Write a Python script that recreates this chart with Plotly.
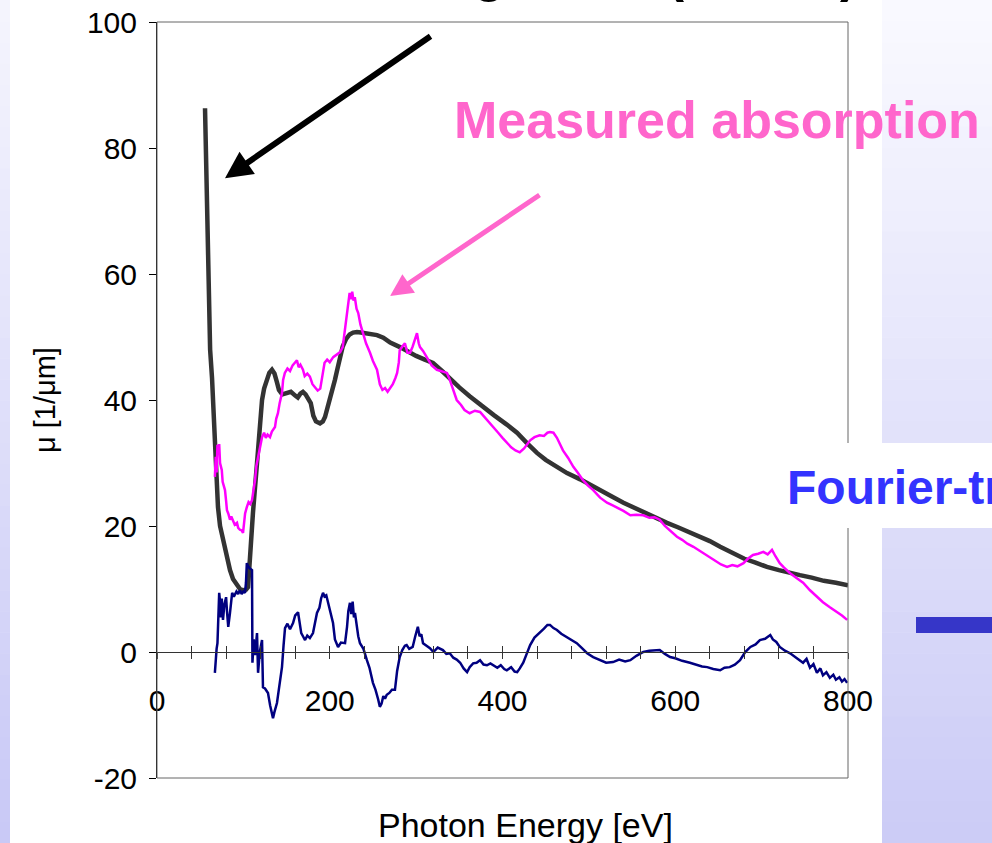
import plotly.graph_objects as go

# ---------------- data ----------------
calc_x = [55.6, 57.9, 60.2, 61.5, 63.7, 65.5, 67.1, 68.8, 70.6, 73, 76.4, 80, 84.5, 88, 92.6, 96, 99.6, 103,
          105.4, 107.7, 111.1, 115.8, 118.5, 121.6, 124, 127.4, 130, 133.1, 136, 138.5, 141.2, 145, 150.5,
          155, 160, 163, 166, 169, 172, 175, 178, 181, 184, 188.7, 192, 194.5, 197, 200.3, 203, 206, 209,
          212, 215, 219, 223, 227, 231.5, 236, 245, 254.7, 262, 270, 281.3, 290, 300, 310, 319.5, 330, 339,
          350, 362, 377.4, 390, 405, 416.8, 428, 439.9, 450, 462, 474.7, 490, 500, 512.9, 525, 540, 551.1,
          565, 578, 590.4, 603, 615, 628.7, 640, 652, 666.9, 680, 693, 706.2, 720, 733, 744.4, 758, 772,
          786, 800]
calc_y = [86.3, 69.7, 53.8, 48, 43.5, 38, 32.5, 27.5, 23.0, 20, 17.8, 15.2, 13.0, 11.6, 10.6, 10.0, 9.8, 9.9,
          10.3, 15.7, 22.1, 30.0, 35.5, 40.0, 41.8, 43.3, 44.3, 44.8, 44.2, 43, 41.6, 40.9, 41.1,
          41.3, 40.7, 40.4, 41, 41.3, 40.9, 40.2, 39.5, 37.5, 36.6, 36.3, 36.6, 37.3, 38.5, 40, 41.6, 43.2, 45,
          47, 48.5, 49.7, 50.4, 50.7, 50.8, 50.7, 50.5, 50.3, 49.9, 49.1, 48.4, 47.7, 47.0, 46.4, 45.9, 44.6, 43.4,
          42.0, 40.6, 38.9, 37.6, 36.1, 34.8, 33.2, 31.6, 30.5, 29.5, 28.4, 27.4, 26.6, 25.7, 24.8, 23.7, 23.0,
          22.0, 21.2, 20.5, 19.8, 19.1, 18.3, 17.6, 16.7, 15.7, 14.8, 14.2, 13.5, 13.0, 12.5, 12.2, 11.8, 11.3,
          11.0, 10.6]

meas_x = [67, 68, 69, 70, 71, 72, 73, 74, 75, 76, 77, 78.7, 80, 81, 82.5, 84.5, 86, 88, 90, 92.6, 94, 96, 98,
          99.6, 101, 102, 104, 106, 108, 110, 111.5, 113.5, 115, 117, 119, 121.6, 124, 126, 128, 130.8, 133,
          136.6, 138, 140, 142, 144.7, 146, 148, 151, 154, 157, 160, 162, 164, 166, 169, 171, 174, 177, 180,
          183, 186, 189, 190, 192, 194, 197, 200, 204, 208, 212, 215, 217, 218.5, 220, 221.5, 223, 224.5, 226,
          227.5, 229, 231, 233, 235.5, 238.5, 242, 246.6, 250, 254.7, 258, 261, 264, 267, 270, 273, 276, 278,
          280, 281, 284, 287, 290, 293, 296, 299, 301, 303, 304.5, 308, 312.6, 318, 324, 330, 335.7, 339, 343,
          347, 352, 356, 362, 368, 374, 380, 385, 389, 395, 400, 405, 410, 415, 420, 425, 429, 432, 437, 443,
          448, 452, 455, 459, 463, 467, 470, 476, 482, 487, 493, 499, 505, 513, 521, 527, 532, 540, 548, 555,
          563, 570, 576, 582, 588, 595, 602, 608, 614, 621, 627, 634, 640, 647, 653, 660, 666, 672, 679, 684,
          690, 696, 702, 707, 712, 716, 721, 726, 733, 740, 748, 756, 764, 771, 779, 786, 793, 799]
meas_y = [27.8, 31, 28.5, 32.9, 31.5, 33, 30, 29.5, 28.9, 27, 26.5, 25.7, 24, 22.5, 22, 21, 21.5, 20.8, 20.2,
          20.5, 19.7, 19.4, 19.3, 18.9, 20.5, 22, 23, 23.8, 23.5, 24.1, 25.5, 27.3, 29.5, 31, 32.8, 34.1, 34.8,
          34, 34.5, 34.1, 35, 35.7, 37, 37.9, 39.5, 41.1, 43.2, 44.3, 45, 44.6, 45.5, 46, 46.3, 45.2, 45.6,
          44.8, 43.8, 44.2, 43.7, 42.5, 42, 41.5, 41.8, 42.5, 44.5, 45.9, 46.4, 46, 46.8, 47.2, 47.6, 48.4,
          50.5, 52, 53.8, 55.5, 57, 56, 57.2, 55.8, 56.3, 54.5, 53.8, 52, 50.6, 49, 47.5, 46.2, 44.8, 42.5,
          41.6, 41.9, 41.3, 42, 42.5, 43.5, 44.3, 46, 47.9, 48.5, 49, 47.5, 47.5, 48.5, 50, 50.6, 49, 48.4,
          47.8, 46.8, 45.5, 44.8, 44.5, 44.3, 43.2, 41.5, 40, 39.2, 38.4, 37.9, 38.3, 38.1, 37.2, 36.4, 35.7,
          34.8, 34, 33.3, 32.5, 32, 31.7, 32.3, 33.1, 33.6, 34.1, 34.4, 34.3, 34.8, 34.9, 34.8, 34, 32.8, 32,
          30.8, 29.4, 28.5, 27.3, 26.4, 25.7, 24.5, 23.7, 23.3, 23, 22.4, 21.7, 21.8, 21.7, 21.3, 21.4, 21, 20,
          19.2, 18.3, 17.8, 17.2, 16.7, 16.2, 15.6, 15.1, 14.5, 13.9, 13.5, 13.8, 13.6, 14.1, 14.8, 15.4,
          15.6, 15.9, 15.5, 16.2, 15.2, 14.1, 13.4, 12.5, 11.8, 11, 9.8, 8.7, 7.9, 7.1, 6.5, 5.8, 5.1]

diff_x = [67, 68, 69, 70, 71, 72, 73, 74, 75, 76.4, 78, 80, 81, 82.5, 84.5, 86, 87, 89, 92, 94, 96, 98, 100,
          101.9, 103, 104, 106, 108, 110, 110.5, 112, 113.5, 115.8, 117, 119, 121.6, 122.7, 125, 128.5, 131,
          134.3, 136, 138.9, 141, 143, 144.7, 146.5, 148.2, 151, 154, 157.5, 160, 163.3, 165, 167, 169, 171.4,
          174, 177, 180.6, 183, 185.2, 188, 190, 192.2, 194, 196, 198, 201, 203.8, 206, 209.6, 213, 217.7,
          220, 221.5, 223.4, 225, 226.5, 228, 229.2, 231, 233, 235, 239, 243, 246, 250, 253, 256, 258, 260,
          262, 264, 266, 269, 272, 275.5, 278, 281, 284, 287, 289, 292, 296, 299, 302, 304, 306, 308, 312,
          316, 320, 325, 331, 335, 339, 343, 347, 351, 355, 359, 362, 366, 370, 374, 378, 382, 386, 390, 394,
          398, 402, 405, 410, 414, 417, 420, 424, 428, 432, 437, 443, 448, 452, 455, 459, 463, 468, 474, 480,
          486, 492, 498, 505, 513, 520, 528, 535, 542, 548, 555, 563, 570, 576, 582, 588, 594, 600, 608, 617,
          625, 631, 637, 644, 652, 657, 663, 669, 675, 681, 687, 693, 698, 704, 710, 713, 717, 721, 727, 733,
          740, 748, 752, 756, 760, 764, 768, 771, 775, 779, 783, 786, 790, 793, 796, 799]
diff_y = [-3.3, -1, 0.5, 1.4, 5, 9.4, 8, 5.5, 8.5, 5.1, 7.5, 8.7, 6.5, 4, 6.2, 8.5, 9.4, 8.8, 9.6, 9.2, 9.8,
          9.2, 9.6, 9.4, 11, 14.1, 13.5, 13.2, 13, -1.7, 2, -0.5, 3, -3.3, 0, 1.9, -5.6, -5.8, -6.5, -8.5,
          -10.5, -9.5, -8.1, -6, -4, -2.4, 1, 3.8, 4.5, 3.6, 4.6, 5.8, 6.3, 4.5, 3, 2.5, 1.9, 2.6, 2.2, 3,
          4.5, 6.2, 7, 8.5, 9.4, 8.8, 9, 7.9, 6.5, 4.6, 2, 0.8, 1.5, 1.4, 4, 6.5, 7.8, 6, 8, 5.5, 6.2, 4, 2.5,
          1.4, 0.5, -1.3, -2.5, -4.9, -6, -7.5, -8.7, -8.2, -7, -7.4, -6.8, -6.5, -6, -6, -3, -0.8, 0.3, 1,
          1.1, 0.5, 0.8, 2.5, 4.0, 2.5, 2.8, 1.4, 1, 0.6, 0, 0.7, 0.3, -0.3, -0.2, -0.9, -1.2, -1.7, -2.6,
          -3.2, -2.4, -1.8, -1.7, -1.3, -2.0, -2.1, -1.8, -2.2, -2.5, -2.1, -2.7, -2.9, -2.4, -3.1, -3.2, -2.6,
          -1.7, -0.3, 1.1, 2.3, 3.0, 3.7, 4.3, 4.3, 3.8, 3.5, 2.9, 2.4, 2.0, 1.4, 0.6, -0.2, -0.8, -1.3, -1.7,
          -1.6, -1.2, -1.5, -1.3, -0.6, 0, 0.2, 0.3, 0.3, -0.3, -0.8, -1.0, -1.4, -1.7, -2.0, -2.3, -2.4, -2.7,
          -2.9, -2.5, -2.4, -2.0, -1.3, 0, 0.8, 1.2, 1.9, 2.1, 2.7, 2.0, 1.6, 0.8, 0.2, -0.2, -0.9, -1.7, -1.1,
          -2.5, -1.9, -3.3, -2.6, -3.7, -3.2, -4.1, -3.6, -4.4, -4.0, -4.7, -4.3, -4.9]

x_tick_vals = [0, 200, 400, 600, 800]
x_tick_text = ["0", "200", "400", "600", "800"]
y_tick_vals = [-20, 0, 20, 40, 60, 80, 100]
y_tick_text = ["-20", "0", "20", "40", "60", "80", "100"]

title_text = "Atomic background (Henke)"
x_title = "Photon Energy [eV]"
y_title = "μ [1/μm]"
measured_label = "Measured absorption"
fourier_label = "Fourier-transform"

# arrow positions in data units (tip, tail)
black_arrow = dict(tip=(78.7, 75.2), tail=(318.4, 97.9))
pink_arrow = dict(tip=(269.8, 56.5), tail=(444.6, 72.7))

# ---------------- figure ----------------
W, H = 992, 843
L, R, T, B = 157, 144, 22, 65
PW, PH = W - L - R, H - T - B


def px(xp):
    return (xp - L) / PW


def py(yp):
    return (H - B - yp) / PH


FONT = "Liberation Sans, Arial, sans-serif"

fig = go.Figure()
fig.add_trace(go.Scatter(x=calc_x, y=calc_y, mode="lines",
                         line=dict(color="#333333", width=4.5), showlegend=False, hoverinfo="skip"))
fig.add_trace(go.Scatter(x=meas_x, y=meas_y, mode="lines",
                         line=dict(color="#FF00FF", width=2.5), showlegend=False, hoverinfo="skip"))
fig.add_trace(go.Scatter(x=diff_x, y=diff_y, mode="lines",
                         line=dict(color="#000080", width=2.5), showlegend=False, hoverinfo="skip"))
# empty trace to attach the second (upward tick) x axis
fig.add_trace(go.Scatter(x=[None], y=[None], xaxis="x2", yaxis="y", showlegend=False, hoverinfo="skip"))


def lerp_color(c1, c2, t):
    r = round(c1[0] + (c2[0] - c1[0]) * t)
    g = round(c1[1] + (c2[1] - c1[1]) * t)
    b = round(c1[2] + (c2[2] - c1[2]) * t)
    return f"rgb({r},{g},{b})"


shapes = []
nb = 40
for i in range(nb):
    y0p = H * i / nb
    y1p = H * (i + 1) / nb
    t = (i + 0.5) / nb
    # right panel
    shapes.append(dict(type="rect", xref="paper", yref="paper", x0=px(882), x1=px(1000),
                       y0=py(y0p), y1=py(y1p + 0.5), fillcolor=lerp_color((250, 250, 255), (203, 203, 246), t),
                       line=dict(width=0), layer="below"))
    # left strip
    shapes.append(dict(type="rect", xref="paper", yref="paper", x0=px(-5), x1=px(10),
                       y0=py(y0p), y1=py(y1p + 0.5), fillcolor=lerp_color((245, 245, 253), (200, 200, 246), t),
                       line=dict(width=0), layer="below"))

# plot area border
shapes.append(dict(type="rect", xref="paper", yref="paper", x0=0, x1=1, y0=0, y1=1,
                   line=dict(color="#666666", width=1), fillcolor="rgba(0,0,0,0)", layer="above"))
# white box behind the Fourier text
shapes.append(dict(type="rect", xref="paper", yref="paper", x0=px(775), x1=px(1000), y0=py(528), y1=py(443),
                   fillcolor="white", line=dict(width=0), layer="above"))
# blue bar
shapes.append(dict(type="rect", xref="paper", yref="paper", x0=px(916), x1=px(1000), y0=py(633), y1=py(617),
                   fillcolor="#3636C8", line=dict(width=0), layer="above"))

annotations = [
    dict(text=title_text, xref="paper", yref="paper", x=px(510), y=py(-27), xanchor="center",
         yanchor="middle", showarrow=False, font=dict(family=FONT, size=52, color="black", weight="bold")),
    dict(text=measured_label, xref="paper", yref="paper", x=px(452), y=py(120), xanchor="left",
         yanchor="middle", showarrow=False, font=dict(family=FONT, size=52, color="#FF66CC", weight="bold")),
    dict(text=fourier_label, xref="paper", yref="paper", x=px(785), y=py(487), xanchor="left",
         yanchor="middle", showarrow=False, font=dict(family=FONT, size=48, color="#3333FF", weight="bold")),
    dict(text=x_title, xref="paper", yref="paper", x=px(525), y=py(825), xanchor="center",
         yanchor="middle", showarrow=False, font=dict(family=FONT, size=34, color="black")),
    dict(text=y_title, xref="paper", yref="paper", x=px(45), y=0.5, xanchor="center",
         yanchor="middle", showarrow=False, textangle=-90, font=dict(family=FONT, size=29, color="black")),
    dict(text="", x=black_arrow["tip"][0], y=black_arrow["tip"][1], xref="x", yref="y",
         ax=black_arrow["tail"][0], ay=black_arrow["tail"][1], axref="x", ayref="y",
         showarrow=True, arrowhead=2, arrowsize=0.9, arrowwidth=6, arrowcolor="black"),
    dict(text="", x=pink_arrow["tip"][0], y=pink_arrow["tip"][1], xref="x", yref="y",
         ax=pink_arrow["tail"][0], ay=pink_arrow["tail"][1], axref="x", ayref="y",
         showarrow=True, arrowhead=2, arrowsize=0.9, arrowwidth=5, arrowcolor="#FF66CC"),
]

zero_pos = 20 / 120

fig.update_layout(
    width=W, height=H,
    margin=dict(l=L, r=R, t=T, b=B, pad=0, autoexpand=False),
    paper_bgcolor="white", plot_bgcolor="white",
    showlegend=False,
    font=dict(family=FONT, color="black"),
    xaxis=dict(range=[0, 800], anchor="free", position=zero_pos, tickmode="array",
               tickvals=x_tick_vals, ticktext=x_tick_text, ticks="outside", ticklen=6, tickwidth=1,
               tickcolor="#333333", minor=dict(tick0=0, dtick=40, ticks="outside", ticklen=6,
                                               tickcolor="#333333", showgrid=False),
               showline=True, linecolor="#333333", linewidth=1, showgrid=False, zeroline=False,
               tickfont=dict(family=FONT, size=30, color="black"), ticklabelstandoff=16, fixedrange=True,
               automargin=False),
    xaxis2=dict(range=[0, 800], overlaying="x", anchor="free", position=zero_pos, tickmode="linear",
                tick0=0, dtick=40, ticks="inside", ticklen=6, tickcolor="#333333", showticklabels=False,
                showline=False, showgrid=False, zeroline=False, fixedrange=True, automargin=False),
    yaxis=dict(range=[-20, 100], tickmode="array", tickvals=y_tick_vals, ticktext=y_tick_text,
               ticks="outside", ticklen=7, tickcolor="black", showline=True, linecolor="black", linewidth=1,
               showgrid=False, zeroline=False, tickfont=dict(family=FONT, size=30, color="black"),
               ticklabelstandoff=6, fixedrange=True, automargin=False),
    shapes=shapes,
    annotations=annotations,
)

fig.write_html("out.html", config=dict(displayModeBar=False))
